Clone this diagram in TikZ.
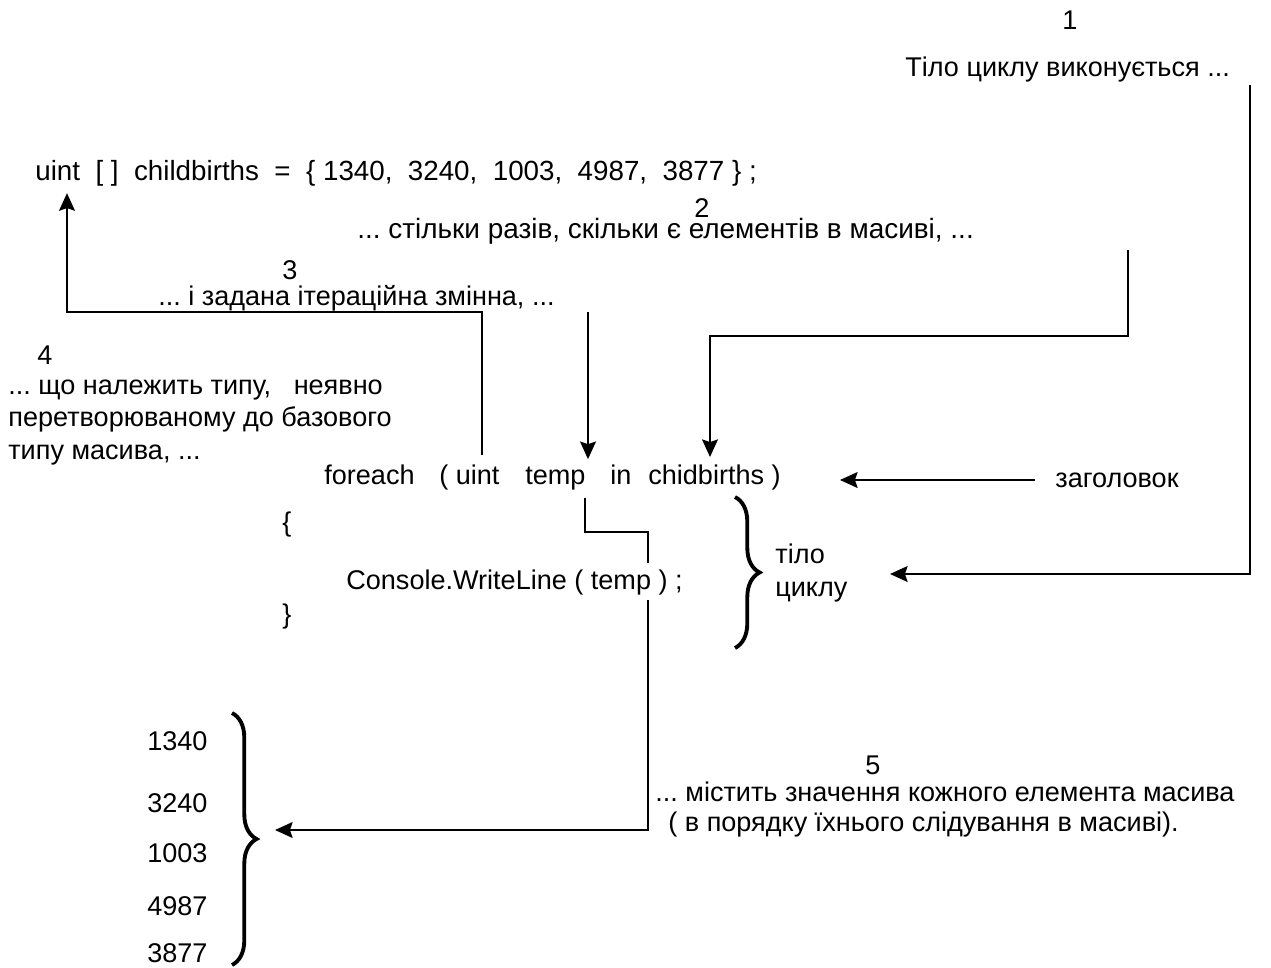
\documentclass[tikz,border=0pt]{standalone}
\usepackage{fontspec}
\setmainfont{Liberation Sans}
\usetikzlibrary{arrows.meta,decorations.pathreplacing}
\frenchspacing

\begin{document}
\begin{tikzpicture}[x=0.02cm, y=-0.02cm]

\tikzset{
    lbl/.style={inner sep=0pt, anchor=base west, font=\fontsize{15.4}{18.5}\selectfont},
    num/.style={inner sep=0pt, anchor=base, font=\fontsize{15.4}{18.5}\selectfont},
    conn/.style={line width=1.2pt},
    arr/.style={conn, -{Stealth[length=10pt, width=9pt, inset=1.5pt]}},
    brc/.style={line width=2.2pt, decorate, decoration={brace, amplitude=14pt}}
}
\useasboundingbox (0,0) rectangle (1271,967);

\node[num] (step1) at (1070,29) {1};
\node[lbl] (body) at (905,76) {Тіло циклу виконується ...};
\node[lbl, font=\fontsize{15.8}{18.5}\selectfont] (decl) at (35,180) {uint~~[~]~~childbirths~~=~~\{~1340,~~3240,~~1003,~~4987,~~3877~\}~;};
\node[num] (step2) at (702,217) {2};
\node[lbl, font=\fontsize{15.9}{18.5}\selectfont] (times) at (357,238) {... стільки разів, скільки є елементів в масиві, ...};
\node[num] (step3) at (290,279) {3};
\node[lbl] (iter) at (158,305) {... і задана ітераційна змінна, ...};
\node[num] (step4) at (45,364) {4};
\node[lbl] (type1) at (8,394) {... що належить типу,~~~неявно};
\node[lbl] (type2) at (8,426) {перетворюваному до базового};
\node[lbl] (type3) at (8,459) {типу масива, ...};

\node[lbl] (hfor) at (324,484) {foreach};
\node[lbl] (huint) at (439,484) {( uint};
\node[lbl] (htemp) at (525,484) {temp};
\node[lbl] (hin) at (610,484) {in};
\node[lbl] (hname) at (648,484) {chidbirths )};
\node[lbl] (head) at (1055,487) {заголовок};

\node[lbl] (open) at (282,531) {\{};
\node[lbl] (call) at (346,589) {Console.WriteLine ( temp ) ;};
\node[lbl] (close) at (282,623) {\}};
\node[lbl] (loop1) at (775,563) {тіло};
\node[lbl] (loop2) at (775,596) {циклу};

\foreach \v/\y [count=\i] in {1340/750, 3240/812, 1003/862, 4987/915, 3877/962}
    \node[lbl] (val\i) at (147,\y) {\v};

\node[num] (step5) at (873,774) {5};
\node[lbl] (each1) at (655,801) {... містить значення кожного елемента масива};
\node[lbl] (each2) at (668,831) {( в порядку їхнього слідування в масиві).};

\draw[brc] (735,497) -- (735,648);
\draw[brc] (232,713) -- (232,965);

\coordinate (c1) at (1250,85);
\coordinate (t1) at (890,574);
\draw[arr] (c1) |- (t1);

\coordinate (c2) at (1128,250);
\coordinate (k2) at (710,336);
\draw[arr, shorten >=4pt] (c2) |- (k2) -- (k2 |- hname.north);

\coordinate (c3) at (482,455);
\coordinate (k3) at (67,312);
\draw[arr, shorten >=4pt] (c3) |- (k3) -- (k3 |- decl.south);

\coordinate (c4) at (588,312);
\draw[arr, shorten >=4pt] (c4) -- (c4 |- htemp.north);

\coordinate (c5) at (1035,480);
\coordinate (t5) at (840,480);
\draw[arr] (c5) -- (t5);

\coordinate (d1) at (585,498);
\coordinate (d2) at (648,532);
\coordinate (d3) at (648,563);
\draw[conn] (d1) |- (d2) -- (d3);

\coordinate (d4) at (648,600);
\coordinate (t6) at (275,830);
\draw[arr] (d4) |- (t6);

\end{tikzpicture}
\end{document}
